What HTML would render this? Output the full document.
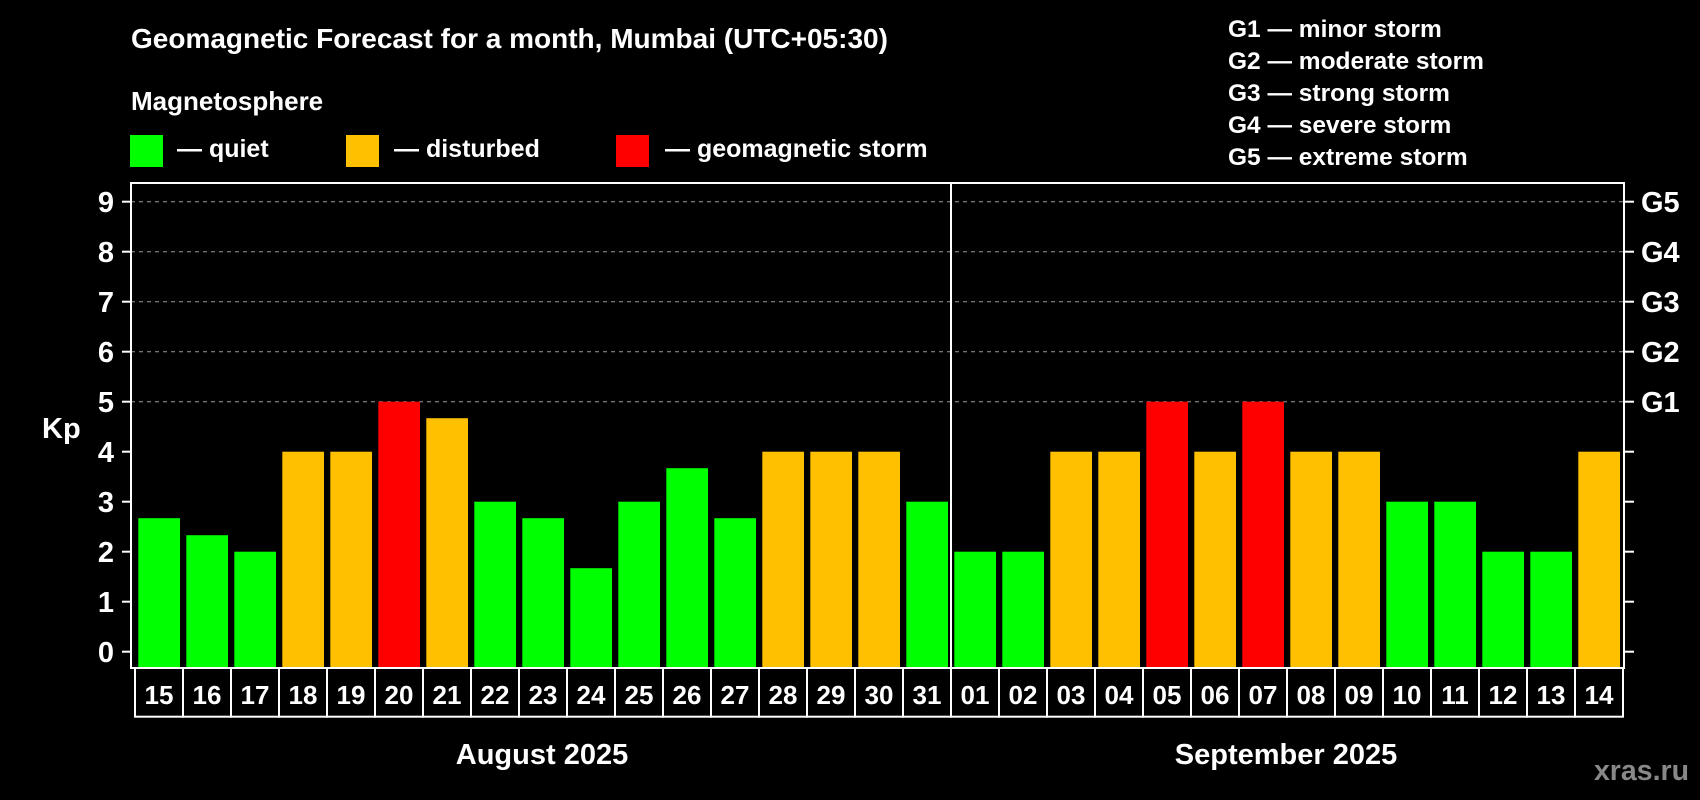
<!DOCTYPE html>
<html><head><meta charset="utf-8"><style>
html,body{margin:0;padding:0;background:#000;}
svg{display:block;font-family:"Liberation Sans",sans-serif;font-weight:bold;}
</style></head><body>
<svg id="chart" width="1700" height="800" viewBox="0 0 1700 800" xmlns="http://www.w3.org/2000/svg">
<rect width="1700" height="800" fill="#000"/>
<text x="131" y="48" fill="#fff" font-size="28">Geomagnetic Forecast for a month, Mumbai (UTC+05:30)</text>
<text x="131" y="110" fill="#fff" font-size="26">Magnetosphere</text>
<g><rect x="130" y="135" width="33" height="32" fill="#00ff00"/><text x="177" y="157" fill="#fff" font-size="25">— quiet</text></g>
<g><rect x="346" y="135" width="33" height="32" fill="#ffc000"/><text x="394" y="157" fill="#fff" font-size="25">— disturbed</text></g>
<g><rect x="616" y="135" width="33" height="32" fill="#ff0000"/><text x="665" y="157" fill="#fff" font-size="25">— geomagnetic storm</text></g>
<g fill="#fff" font-size="24.5">
<text x="1228" y="37">G1 — minor storm</text>
<text x="1228" y="69">G2 — moderate storm</text>
<text x="1228" y="101">G3 — strong storm</text>
<text x="1228" y="133">G4 — severe storm</text>
<text x="1228" y="165">G5 — extreme storm</text>
</g>
<text x="42" y="438" fill="#fff" font-size="29">Kp</text>
<g id="grid"></g><g id="bars"></g><g id="axes"></g>
<text x="542" y="764" fill="#fff" font-size="29" text-anchor="middle">August 2025</text>
<text x="1286" y="764" fill="#fff" font-size="29" text-anchor="middle">September 2025</text>
<text x="1689" y="780" fill="#888" font-size="28.5" text-anchor="end">xras.ru</text>
</svg>
<script>
const days = ["15","16","17","18","19","20","21","22","23","24","25","26","27","28","29","30","31","01","02","03","04","05","06","07","08","09","10","11","12","13","14"];
const kpValues = [2.67,2.33,2,4,4,5,4.67,3,2.67,1.67,3,3.67,2.67,4,4,4,3,2,2,4,4,5,4,5,4,4,3,3,2,2,4];
const yTicks = ["0","1","2","3","4","5","6","7","8","9"];
const gLabels = ["G1","G2","G3","G4","G5"];
const NS="http://www.w3.org/2000/svg";
const L=131,R=1624,T=183,B=668,y0=651.7,unit=50,x0=135,pitch=48;
const yS=v=>y0-v*unit;
const xS=i=>x0+i*pitch;
function mk(tag,attrs,parent){const e=document.createElementNS(NS,tag);for(const k in attrs)e.setAttribute(k,attrs[k]);parent.appendChild(e);return e;}
const grid=document.getElementById('grid'),bars=document.getElementById('bars'),axes=document.getElementById('axes');
for(let v=5;v<=9;v++){
  const l=mk('line',{x1:L,x2:R,y1:yS(v),y2:yS(v),stroke:'#999','stroke-width':1,'stroke-dasharray':'4,4'},grid);
  
  
}
kpValues.forEach((v,i)=>{
  const c=v>=5?'#ff0000':(v>=4?'#ffc000':'#00ff00');
  const r=mk('rect',{x:xS(i)+3.3,y:yS(v),width:41.7,height:B-yS(v),fill:c},bars);
  
  
  const bx=mk('rect',{x:xS(i),y:B,width:pitch,height:48.7,fill:'none',stroke:'#fff','stroke-width':2},axes);
  
  
  const t=mk('text',{x:xS(i)+pitch/2,y:B+36,fill:'#fff','font-size':26,'text-anchor':'middle'},axes);
  t.textContent=days[i];
  
  
});
const fr=mk('rect',{x:L,y:T,width:R-L,height:B-T,fill:'none',stroke:'#fff','stroke-width':2},axes);


const dv=mk('line',{x1:x0+17*pitch,x2:x0+17*pitch,y1:T,y2:B,stroke:'#fff','stroke-width':2},axes);


yTicks.forEach((s,i)=>{
  const y=yS(+s);
  mk('line',{x1:122,x2:L,y1:y,y2:y,stroke:'#fff','stroke-width':2},axes);
  mk('line',{x1:R,x2:1634,y1:y,y2:y,stroke:'#fff','stroke-width':2},axes);
  const t=mk('text',{x:114,y:y+10.5,fill:'#fff','font-size':29,'text-anchor':'end'},axes);
  t.textContent=s;
  
  
});
gLabels.forEach((s,i)=>{
  const t=mk('text',{x:1641,y:yS(5+i)+10.5,fill:'#fff','font-size':29},axes);
  t.textContent=s;
  
  
});
</script>
</body></html>
